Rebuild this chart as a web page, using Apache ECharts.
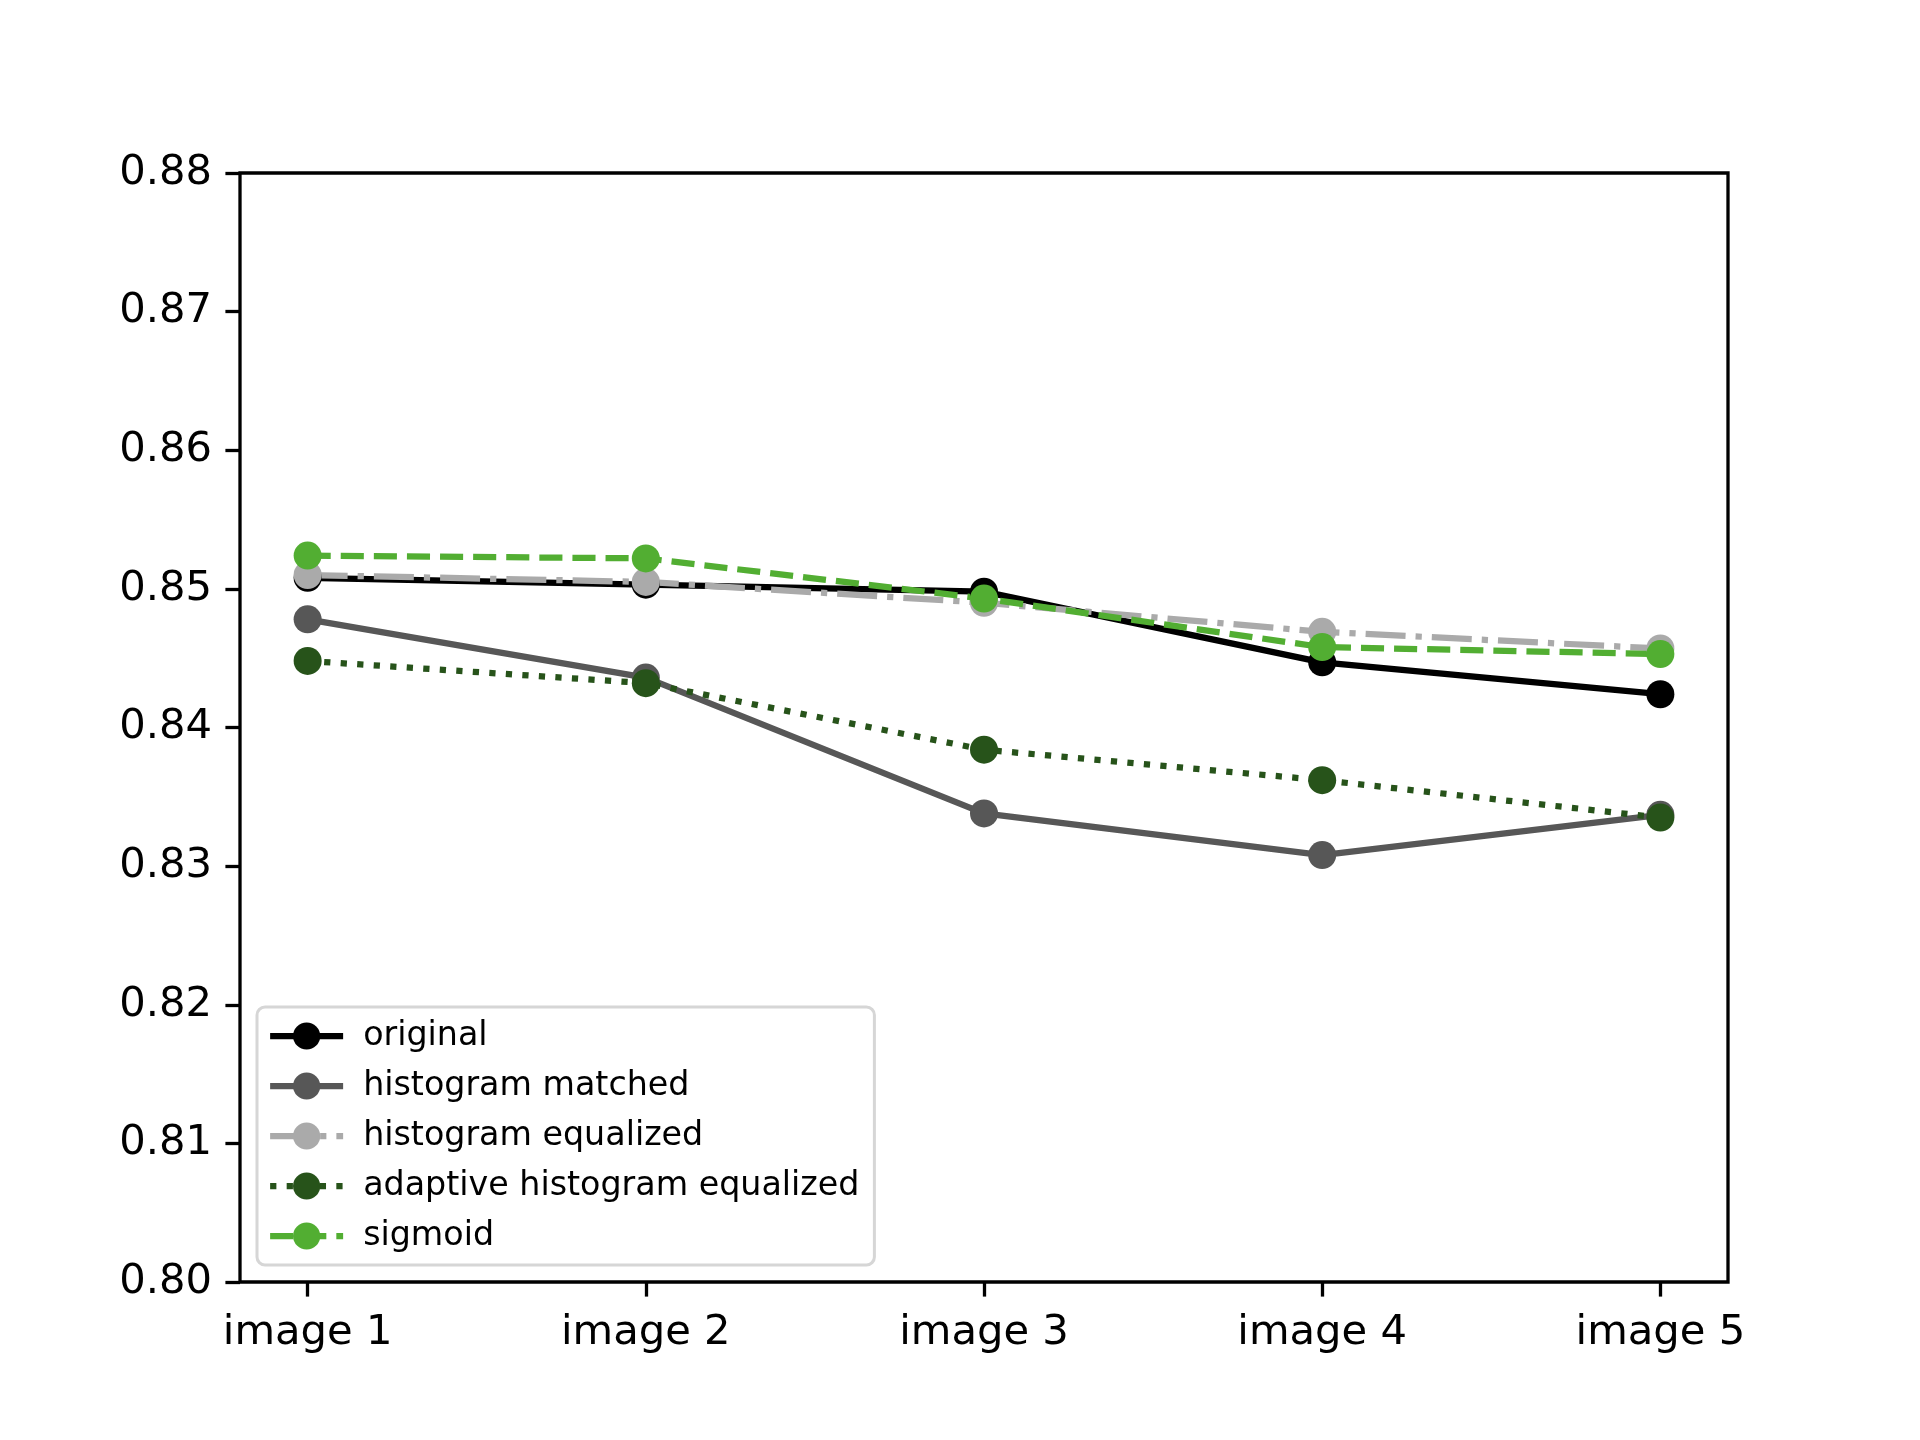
<!DOCTYPE html>
<html>
<head>
<meta charset="utf-8">
<script src="https://cdn.jsdelivr.net/npm/echarts@6/dist/echarts.min.js"></script>
<style>
  html, body { margin: 0; padding: 0; background: #ffffff; }
  #chart { width: 1920px; height: 1440px; }
</style>
</head>
<body>
<div id="chart"></div>
<script>
const categories = ["image 1", "image 2", "image 3", "image 4", "image 5"];
const original = [0.8508, 0.8503, 0.8498, 0.8447, 0.8424];
const histMatched = [0.8478, 0.8436, 0.8338, 0.8308, 0.8337];
const histEqualized = [0.8510, 0.8505, 0.8490, 0.8469, 0.8457];
const adaptiveEqualized = [0.8448, 0.8432, 0.8384, 0.8362, 0.8335];
const sigmoid = [0.8524, 0.8522, 0.8493, 0.8458, 0.8453];
const yTicks = { min: 0.80, max: 0.88, step: 0.01 };

const FONT = "DejaVu Sans";
const LW = 6.25;

function pairs(values) {
  return values.map((v, i) => [i, v]);
}

function lineSeries(name, values, color, dash) {
  return {
    name: name,
    type: "line",
    data: pairs(values),
    symbol: "circle",
    symbolSize: 28,
    showAllSymbol: true,
    color: color,
    itemStyle: { color: color, borderWidth: 0 },
    lineStyle: { color: color, width: LW, type: dash, cap: "butt" },
    emphasis: { disabled: true },
    animation: false,
  };
}

const chart = echarts.init(document.getElementById("chart"), null, { renderer: "canvas" });
chart.setOption({
  backgroundColor: "#ffffff",
  animation: false,
  textStyle: { fontFamily: FONT, color: "#000000" },
  grid: {
    left: 240, right: 192, top: 173, bottom: 158,
    show: true, borderColor: "#000000", borderWidth: 3.3, backgroundColor: "transparent",
  },
  xAxis: {
    type: "value",
    min: -0.2,
    max: 4.2,
    axisLine: { show: false, onZero: false },
    splitLine: { show: false },
    axisTick: { show: true, customValues: [0, 1, 2, 3, 4], length: 14.6, lineStyle: { color: "#000", width: 3.3 } },
    axisLabel: {
      customValues: [0, 1, 2, 3, 4],
      formatter: (v) => categories[Math.round(v)],
      fontFamily: FONT, fontSize: 41.7, color: "#000", margin: 30,
    },
  },
  yAxis: {
    type: "value",
    min: yTicks.min,
    max: yTicks.max,
    interval: yTicks.step,
    axisLine: { show: false, onZero: false },
    splitLine: { show: false },
    axisTick: { show: true, length: 14.6, lineStyle: { color: "#000", width: 3.3 } },
    axisLabel: {
      formatter: (v) => v.toFixed(2),
      fontFamily: FONT, fontSize: 41.7, color: "#000", margin: 28,
    },
  },
  legend: {
    orient: "vertical",
    left: 257,
    top: 1007,
    itemWidth: 73,
    itemHeight: 34,
    itemGap: 16,
    padding: [12, 15, 12, 10],
    backgroundColor: "#ffffff",
    borderColor: "#d6d6d6",
    borderWidth: 3,
    borderRadius: 8,
    lineStyle: { width: LW },
    selectedMode: false,
    textStyle: { fontFamily: FONT, fontSize: 33.3, color: "#000", lineHeight: 34, padding: [0, 0, 0, 15] },
    data: ["original", "histogram matched", "histogram equalized", "adaptive histogram equalized", "sigmoid"],
  },
  series: [
    lineSeries("original", original, "#000000", "solid"),
    lineSeries("histogram matched", histMatched, "#575757", "solid"),
    lineSeries("histogram equalized", histEqualized, "#aaaaaa", [40, 10, 6.25, 10]),
    lineSeries("adaptive histogram equalized", adaptiveEqualized, "#27531a", [6.25, 10.3]),
    lineSeries("sigmoid", sigmoid, "#52ae32", [23.1, 10]),
  ],
});
</script>
</body>
</html>
